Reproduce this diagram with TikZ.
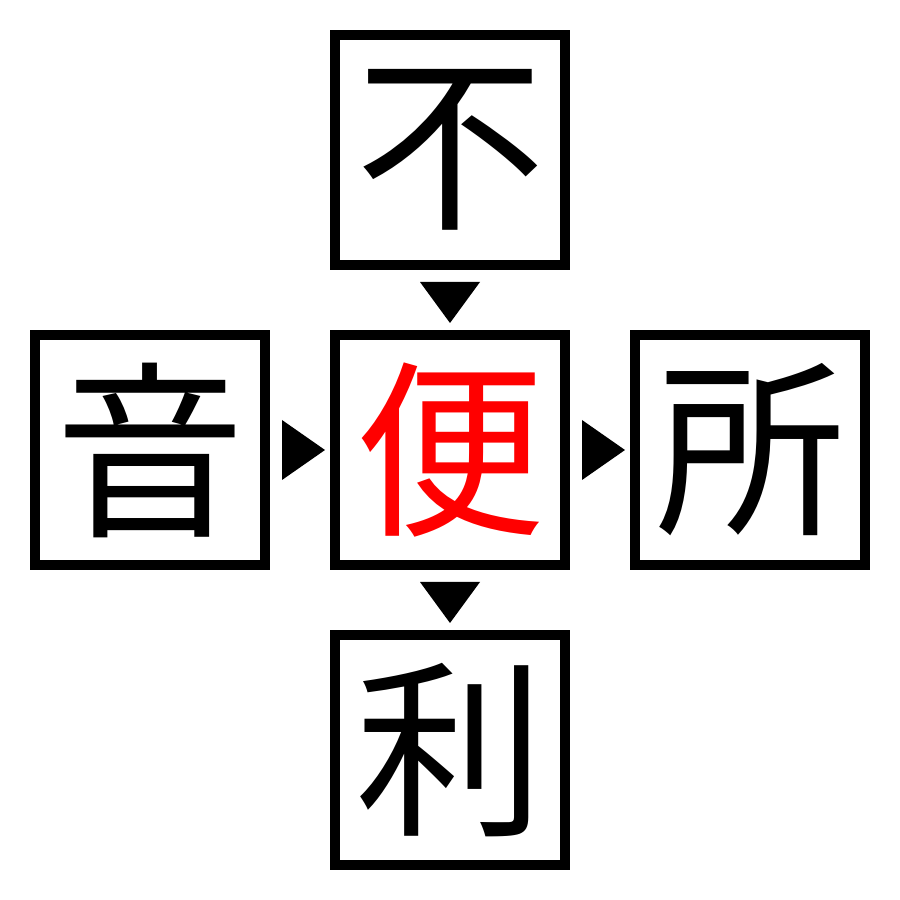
\documentclass[tikz,border=0pt]{standalone}
\usepackage{fontspec}
\newfontfamily\cjk{Noto Sans CJK JP}
\usetikzlibrary{positioning}

\begin{document}
\begin{tikzpicture}[
    node distance=0.7cm,
    kanji/.style={draw, line width=0.1cm, minimum size=2.3cm, inner sep=0, outer sep=0,
      font=\cjk\fontsize{54}{54}\selectfont},
  ]
  \useasboundingbox (0,0) rectangle (9,9);

  % the centre character and its neighbours
  \node [kanji, text=red](bian) at (4.5,4.5) {便};
  \node [kanji, above = of bian](bu) {不};
  \node [kanji, left = of bian](yin) {音};
  \node [kanji, right = of bian](suo) {所};
  \node [kanji, below = of bian](li) {利};

  % arrow marks between the boxes
  \fill ([xshift=-0.3cm, yshift=-0.17cm]bu.south) -- ([yshift=0.12cm]bian.north) -- ([xshift=0.3cm, yshift=-0.17cm]bu.south) -- cycle;
  \fill ([xshift=0.17cm, yshift=0.3cm]yin.east) -- ([xshift=-0.1cm]bian.west) -- ([xshift=0.17cm, yshift=-0.3cm]yin.east) -- cycle;
  \fill ([xshift=0.17cm, yshift=0.3cm]bian.east) -- ([xshift=-0.1cm]suo.west) -- ([xshift=0.17cm, yshift=-0.3cm]bian.east) -- cycle;
  \fill ([xshift=-0.3cm, yshift=-0.17cm]bian.south) -- ([yshift=0.12cm]li.north) -- ([xshift=0.3cm, yshift=-0.17cm]bian.south) -- cycle;
\end{tikzpicture}
\end{document}
